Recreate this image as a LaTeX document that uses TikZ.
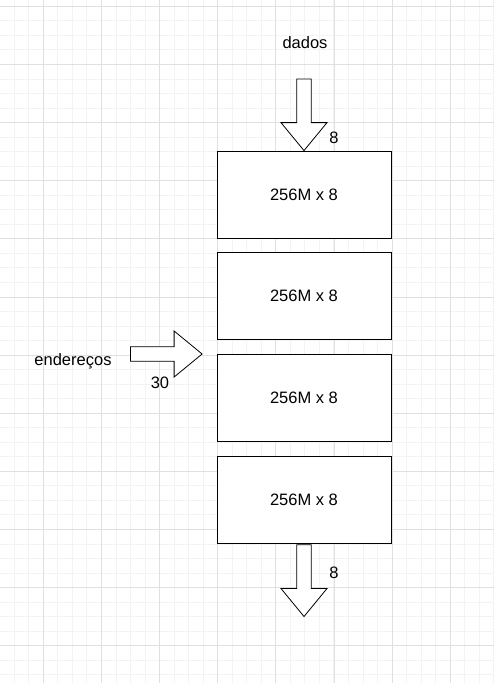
\documentclass[tikz,border=0pt]{standalone}
\usepackage{fontspec}
\setmainfont{Liberation Sans}
\usetikzlibrary{calc}
\usetikzlibrary{positioning}

\definecolor{gridminor}{HTML}{F3F3F3}
\definecolor{gridmajor}{HTML}{E0E0E0}

\tikzset{
	blockarrow/.pic={
		\draw [thick,fill=white,line join=miter]
			(0,0) -- (-28,23) -- (-28,7.3) -- (-71.7,7.3)
			-- (-71.7,-7.3) -- (-28,-7.3) -- (-28,-23) -- cycle;
	}
}

\begin{document}
\begin{tikzpicture}[
		x=1pt,y=1pt,
		mem/.style={draw=black,fill=white,thick,rectangle,minimum width=174pt,minimum height=87pt,inner sep=0pt},
		lbl/.style={inner sep=0pt}
	]\fontsize{16.5}{19}\selectfont
		\useasboundingbox (0,0) rectangle (494,-683);
		\fill [white] (0,0) rectangle (494,-683);
		\foreach \k in {0,...,34}
			\draw [gridminor,line width=0.8pt] ({14.53*\k-0.3},0) -- ({14.53*\k-0.3},-683);
		\foreach \k in {0,...,46}
			\draw [gridminor,line width=0.8pt] (0,{-6.3-14.53*\k}) -- (494,{-6.3-14.53*\k});
		\foreach \k in {0,...,8}
			\draw [gridmajor,line width=0.8pt] ({43.3+58.13*\k},0) -- ({43.3+58.13*\k},-683);
		\foreach \k in {0,...,11}
			\draw [gridmajor,line width=0.8pt] (0,{-6.3-58.13*\k}) -- (494,{-6.3-58.13*\k});

		\node [mem] (mem1) at (304,-194.5) {256M x 8};
		\node [mem,below=13.9pt of mem1] (mem2) {256M x 8};
		\node [mem,below=13.9pt of mem2] (mem3) {256M x 8};
		\node [mem,below=13.9pt of mem3] (mem4) {256M x 8};

		\coordinate (addr_tip) at ($(mem3.north west)+(-14.5,0)$);
		\coordinate (out_tip) at ($(mem4.south)+(0,-73)$);

		\pic [rotate=-90] at (mem1.north) {blockarrow};
		\pic [rotate=-90] at (out_tip) {blockarrow};
		\pic at (addr_tip) {blockarrow};

		\node [lbl] (dados) at (305,-43) {dados};
		\node [lbl] (w_in) at (334,-138) {8};
		\node [lbl] (endereco) at (73,-361) {endereços};
		\node [lbl] (w_addr) at (160,-383) {30};
		\node [lbl] (w_out) at (334,-573) {8};
	\end{tikzpicture}
\end{document}
